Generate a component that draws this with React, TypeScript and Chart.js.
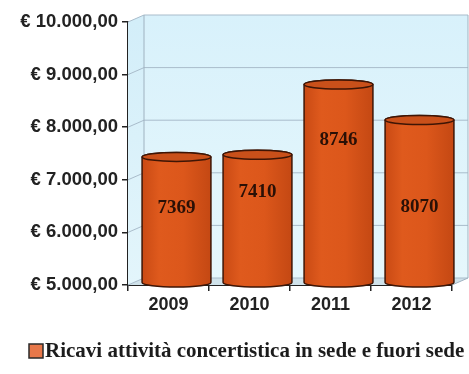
import React, { useEffect, useRef } from "react";
import { Chart, registerables } from "chart.js";

Chart.register(...registerables);

const years = ["2009", "2010", "2011", "2012"];
const revenues = [7369, 7410, 8746, 8070];
// where each value label sits inside its cylinder, in data units
const labelAnchors = [6400, 6700, 7690, 6420];
const seriesLabel = "Ricavi attività concertistica in sede e fuori sede";
const yMin = 5000;
const yMax = 10000;
const yStep = 1000;

const DX = 16;
const DY = -7;

function euro(v: number): string {
  const s = Math.round(v).toString().replace(/\B(?=(\d{3})+(?!\d))/g, ".");
  return "€ " + s + ",00";
}

const wallPlugin = {
  id: "wall3d",
  beforeDatasetsDraw(chart: any) {
    const { ctx, chartArea } = chart;
    const { left: L, right: R, top: T, bottom: B } = chartArea;
    const yScale = chart.scales.y;
    ctx.save();
    ctx.beginPath();
    ctx.moveTo(L, T);
    ctx.lineTo(L + DX, T + DY);
    ctx.lineTo(L + DX, B + DY);
    ctx.lineTo(L, B);
    ctx.closePath();
    const sg = ctx.createLinearGradient(0, T, 0, B);
    sg.addColorStop(0, "#d3eef9");
    sg.addColorStop(1, "#e3f5fb");
    ctx.fillStyle = sg;
    ctx.fill();
    const g = ctx.createLinearGradient(0, T + DY, 0, B + DY);
    g.addColorStop(0, "#d8f1fb");
    g.addColorStop(1, "#e6f7fc");
    ctx.fillStyle = g;
    ctx.fillRect(L + DX, T + DY, R - L, B - T);
    ctx.beginPath();
    ctx.moveTo(L, B);
    ctx.lineTo(R, B);
    ctx.lineTo(R + DX, B + DY);
    ctx.lineTo(L + DX, B + DY);
    ctx.closePath();
    ctx.fillStyle = "#cfe2ea";
    ctx.fill();
    ctx.strokeStyle = "#a9bccb";
    ctx.lineWidth = 1;
    for (let v = yMin; v <= yMax; v += yStep) {
      const y = yScale.getPixelForValue(v);
      ctx.beginPath();
      ctx.moveTo(L, y);
      ctx.lineTo(L + DX, y + DY);
      ctx.lineTo(R + DX, y + DY);
      ctx.stroke();
    }
    ctx.strokeStyle = "#9fb2c0";
    ctx.beginPath();
    ctx.moveTo(L + DX, T + DY);
    ctx.lineTo(L + DX, B + DY);
    ctx.moveTo(R + DX, T + DY);
    ctx.lineTo(R + DX, B + DY);
    ctx.lineTo(R, B);
    ctx.stroke();
    ctx.restore();
  },
  beforeDatasetDraw() {
    return false;
  },
  afterDatasetsDraw(chart: any) {
    const { ctx } = chart;
    const meta = chart.getDatasetMeta(0);
    const yScale = chart.scales.y;
    const basePix = yScale.getPixelForValue(yMin);
    ctx.save();
    meta.data.forEach((el: any, i: number) => {
      const cx = el.x + DX / 2;
      const ty = el.y + DY / 2;
      const by = basePix + DY / 2 + 1;
      const rx = el.width / 2;
      const ry = 4.5;
      ctx.beginPath();
      ctx.moveTo(cx - rx, ty);
      ctx.lineTo(cx - rx, by);
      ctx.ellipse(cx, by, rx, ry, 0, Math.PI, 0, true);
      ctx.lineTo(cx + rx, ty);
      ctx.ellipse(cx, ty, rx, ry, 0, 0, Math.PI, true);
      ctx.closePath();
      const g = ctx.createLinearGradient(cx - rx, 0, cx + rx, 0);
      g.addColorStop(0, "#c94a14");
      g.addColorStop(0.25, "#df5a1d");
      g.addColorStop(0.6, "#dc571b");
      g.addColorStop(1, "#c44813");
      ctx.fillStyle = g;
      ctx.fill();
      ctx.strokeStyle = "#3e1505";
      ctx.lineWidth = 1.5;
      ctx.stroke();
      ctx.beginPath();
      ctx.ellipse(cx, ty, rx, ry, 0, 0, Math.PI * 2);
      ctx.fillStyle = "#c9501a";
      ctx.fill();
      ctx.stroke();
      ctx.fillStyle = "#2a1006";
      ctx.font = "bold 19px 'Liberation Serif', 'Times New Roman', serif";
      ctx.textAlign = "center";
      ctx.textBaseline = "middle";
      const ly = yScale.getPixelForValue(labelAnchors[i]) + DY / 2;
      ctx.fillText(String(revenues[i]), cx, ly);
    });
    ctx.restore();
  },
  afterDraw(chart: any) {
    const { ctx } = chart;
    ctx.save();
    const ds = chart.data.datasets[0];
    const bx = 29, by = 344, bs = 14;
    ctx.fillStyle = "#e8784a";
    ctx.fillRect(bx, by, bs, bs);
    ctx.strokeStyle = "#2a2a2a";
    ctx.lineWidth = 1.5;
    ctx.strokeRect(bx, by, bs, bs);
    ctx.fillStyle = "#1c1c1c";
    ctx.font = "bold 21px 'Liberation Serif', 'Times New Roman', serif";
    ctx.textAlign = "left";
    ctx.textBaseline = "middle";
    ctx.fillText(ds.label, bx + bs + 2, by + bs / 2 + 1);
    ctx.restore();
  },
};

export default function App() {
  const ref = useRef<HTMLCanvasElement | null>(null);
  useEffect(() => {
    document.body.style.margin = "0";
    document.body.style.background = "#ffffff";
    if (!ref.current) return;
    const chart = new Chart(ref.current, {
      type: "bar",
      data: {
        labels: years,
        datasets: [
          {
            label: seriesLabel,
            data: revenues,
            backgroundColor: "#dc5a1b",
            borderColor: "#3e1505",
            barPercentage: 0.85,
            categoryPercentage: 1,
          },
        ],
      },
      options: {
        animation: false,
        responsive: false,
        maintainAspectRatio: false,
        layout: { padding: { top: 22, right: 17, bottom: 60, left: 0 } },
        plugins: {
          legend: { display: false },
          tooltip: { enabled: false },
        },
        scales: {
          x: {
            offset: true,
            grid: {
              display: true,
              drawOnChartArea: false,
              drawTicks: true,
              tickLength: 6,
              color: "#222",
              lineWidth: 1.5,
            },
            border: { display: true, color: "#222", width: 2 },
            ticks: {
              color: "#222",
              padding: 3,
              font: { family: "'Liberation Sans', Arial, sans-serif", size: 18, weight: "bold" },
            },
            afterFit(scale: any) {
              scale.height = 29;
            },
          },
          y: {
            min: yMin,
            max: yMax,
            ticks: {
              stepSize: yStep,
              color: "#222",
              padding: 4,
              callback: (v: any) => euro(Number(v)),
              font: { family: "'Liberation Sans', Arial, sans-serif", size: 18.5, weight: "bold" },
            },
            grid: {
              display: true,
              drawOnChartArea: false,
              drawTicks: true,
              tickLength: 6,
              color: "#222",
              lineWidth: 1.5,
            },
            border: { display: true, color: "#222", width: 2 },
            afterFit(scale: any) {
              scale.width = 128;
            },
          },
        },
      } as any,
      plugins: [wallPlugin],
    });
    return () => chart.destroy();
  }, []);
  return (
    <div style={{ width: 469, height: 374 }}>
      <canvas ref={ref} width={469} height={374} style={{ display: "block" }} />
    </div>
  );
}
